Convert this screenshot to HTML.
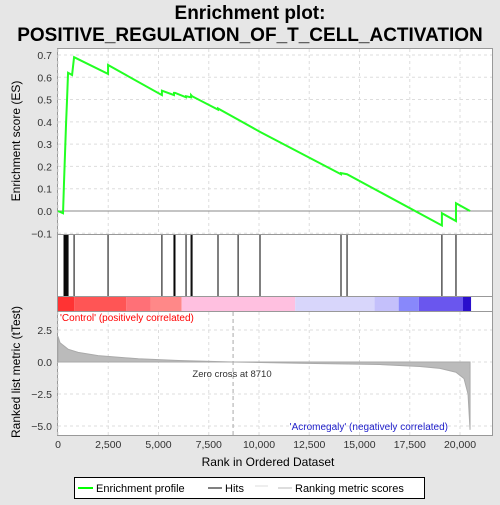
<!DOCTYPE html>
<html><head><meta charset="utf-8"><style>
body{margin:0;background:#e6e6e6;font-family:"Liberation Sans",sans-serif}
svg text{font-family:"Liberation Sans",sans-serif}
</style></head><body>
<svg id="c" width="500" height="500" xmlns="http://www.w3.org/2000/svg">
<rect width="500" height="500" fill="#e6e6e6"/>
<text x="250" y="19" text-anchor="middle" font-size="19" font-weight="bold">Enrichment plot:</text>
<text x="250" y="41" text-anchor="middle" font-size="19" font-weight="bold">POSITIVE_REGULATION_OF_T_CELL_ACTIVATION</text>
<rect x="57.5" y="48.5" width="435" height="186" fill="#fff" stroke="#999"/>
<rect x="57.5" y="234.5" width="435" height="62" fill="#fff" stroke="#999"/>
<rect x="57.5" y="296.5" width="435" height="15" fill="#fff" stroke="#999"/>
<rect x="57.5" y="311.5" width="435" height="124" fill="#fff" stroke="#999"/>
<g id="g"></g>
<text x="60" y="321" font-size="10" fill="#f00">'Control' (positively correlated)</text>
<text x="448" y="430" font-size="10" fill="#22c" text-anchor="end">'Acromegaly' (negatively correlated)</text>
<text x="232" y="377" font-size="9.5" fill="#333" text-anchor="middle">Zero cross at 8710</text>
<text x="20" y="141" font-size="12" text-anchor="middle" transform="rotate(-90 20 141)">Enrichment score (ES)</text>
<text x="20" y="372" font-size="12" text-anchor="middle" transform="rotate(-90 20 372)">Ranked list metric (tTest)</text>
<text x="268" y="466" font-size="12" text-anchor="middle">Rank in Ordered Dataset</text>
<rect x="74.5" y="477.5" width="350" height="21" fill="#fff" stroke="#000"/>
<line x1="78" y1="488" x2="93" y2="488" stroke="#0f0" stroke-width="2"/>
<text x="96" y="492" font-size="11">Enrichment profile</text>
<line x1="208" y1="488" x2="222" y2="488" stroke="#000"/>
<text x="225" y="492" font-size="11">Hits</text>
<line x1="255" y1="486" x2="268" y2="486" stroke="#ddd"/>
<line x1="278" y1="488" x2="292" y2="488" stroke="#bbb"/>
<text x="295" y="492" font-size="11">Ranking metric scores</text>
</svg>
<script>
const esTicks=[0.7,0.6,0.5,0.4,0.3,0.2,0.1,0.0,-0.1];
const metricTicks=[2.5,0,-2.5,-5];
const xTicks=[0,2500,5000,7500,10000,12500,15000,17500,20000];
const hitRanks=[300,350,400,450,500,800,2490,5170,5770,5820,6370,6620,6670,7960,8960,10050,14080,14380,19100,19800];
const esRanks=[0,250,300,350,400,450,500,700,800,2490,2490,5170,5170,5770,5770,5820,6370,6370,6620,6620,6670,7960,7960,8960,10050,14080,14080,14380,19100,19100,19800,19800,20500];
const esValues=[0,-0.01,0.13,0.26,0.39,0.50,0.62,0.61,0.69,0.615,0.655,0.52,0.54,0.52,0.53,0.53,0.51,0.515,0.51,0.52,0.515,0.455,0.46,0.41,0.355,0.165,0.17,0.165,-0.065,-0.01,-0.045,0.035,0.0];
const metricRanks=[0,100,500,1000,2000,4000,6000,8710,12000,16000,18000,19000,19800,20200,20400,20500];
const metricValues=[2.0,1.5,1.0,0.75,0.5,0.25,0.12,0,-0.1,-0.2,-0.35,-0.5,-0.8,-1.3,-2.5,-5.3];
const bandEdges=[0,800,3400,4600,6150,11800,15750,16950,17950,20150,20550];
const bandColors=["#f33","#ff5555","#ff7077","#ff8888","#ffc0e0","#d8d6fb","#c4c0fb","#8888fb","#6a56ee","#2a0fcc"];
const X=r=>58+r*0.0201, YE=v=>211-v*222.9, YM=v=>362-v*12.8;
const NS="http://www.w3.org/2000/svg",g=document.getElementById('g');
function mk(t,a){const e=document.createElementNS(NS,t);for(const k in a)e.setAttribute(k,a[k]);g.appendChild(e);return e;}
function txt(x,y,s,anchor){const e=mk('text',{x:x,y:y,'font-size':10.5,'text-anchor':anchor,fill:'#333'});e.textContent=s;return e;}
xTicks.forEach(t=>{
 const l1=mk('line',{x1:X(t),x2:X(t),y1:49,y2:234,stroke:'#ddd','stroke-dasharray':'3,3'});
 
 const l2=mk('line',{x1:X(t),x2:X(t),y1:312,y2:435,stroke:'#ddd','stroke-dasharray':'3,3'});
 
 const tl=txt(X(t),448,t.toLocaleString('en-US'),'middle');
 
});
esTicks.forEach(v=>{
 const l=mk('line',{x1:58,x2:492,y1:YE(v),y2:YE(v),stroke:'#ddd','stroke-dasharray':'3,3'});
 
 const t=txt(52,YE(v)+4,v.toFixed(1).replace('-','\u2212'),'end');
 
});
metricTicks.forEach(v=>{
 const l=mk('line',{x1:58,x2:492,y1:YM(v),y2:YM(v),stroke:'#ddd','stroke-dasharray':'3,3'});
 
 const t=txt(52,YM(v)+4,v.toFixed(1).replace('-','\u2212'),'end');
 
});
const z=mk('line',{x1:58,x2:492,y1:YE(0),y2:YE(0),stroke:'#888'});

bandColors.forEach((c,i)=>{
 const r=mk('rect',{x:X(bandEdges[i]),y:297,width:X(bandEdges[i+1])-X(bandEdges[i]),height:14,fill:c});
 
});
hitRanks.forEach(h=>{
 const l=mk('line',{x1:X(h),x2:X(h),y1:235,y2:296,stroke:'#000','stroke-width':1});
 
});
let d='M'+X(0)+','+YM(0);
metricRanks.forEach((r,i)=>d+=' L'+X(r)+','+YM(metricValues[i]));
d+=' L'+X(metricRanks[metricRanks.length-1])+','+YM(0)+'Z';
const a=mk('path',{d:d,fill:'#bbb',stroke:'#aaa'});

const zc=mk('line',{x1:X(8710),x2:X(8710),y1:312,y2:435,stroke:'#aaa','stroke-dasharray':'4,3'});

const p=mk('polyline',{points:esRanks.map((r,i)=>X(r)+','+YE(esValues[i])).join(' '),fill:'none',stroke:'#2f2',"stroke-width":2});

</script>
</body></html>
